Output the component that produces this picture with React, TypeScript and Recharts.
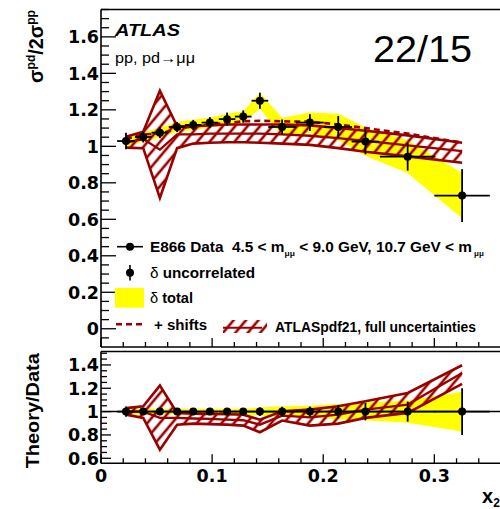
import React from 'react';
import { ComposedChart, Area, Line, Scatter, ErrorBar, XAxis, YAxis, ReferenceLine } from 'recharts';

// ---------- data ----------
const xCenters = [0.0225, 0.038, 0.053, 0.0685, 0.083, 0.098, 0.1135, 0.128, 0.143, 0.163, 0.188, 0.2135, 0.238, 0.276, 0.325];
const xHalfWidths = [0.008, 0.0075, 0.0075, 0.0075, 0.0075, 0.0075, 0.0075, 0.0075, 0.0075, 0.0125, 0.0125, 0.0125, 0.0125, 0.025, 0.025];

// top panel: sigma(pd)/2sigma(pp)
const dataRatio = [1.029, 1.051, 1.075, 1.106, 1.117, 1.13, 1.149, 1.163, 1.25, 1.106, 1.13, 1.106, 1.026, 0.943, 0.73];
const errUncorrelated = [0.045, 0.03, 0.03, 0.028, 0.028, 0.03, 0.036, 0.034, 0.044, 0.041, 0.046, 0.06, 0.07, 0.076, 0.145];
const totalLow = [0.998, 1.025, 1.048, 1.078, 1.089, 1.102, 1.12, 1.134, 1.206, 1.056, 1.074, 1.034, 0.949, 0.853, 0.606];
const totalHigh = [1.06, 1.077, 1.102, 1.134, 1.145, 1.158, 1.178, 1.192, 1.294, 1.156, 1.186, 1.178, 1.103, 1.033, 0.854];
const theoryUp = [1.053, 1.08, 1.305, 1.11, 1.11, 1.115, 1.12, 1.12, 1.12, 1.12, 1.115, 1.1, 1.085, 1.06, 1.02];
const theoryMid = [1.02, 1.04, 0.982, 1.065, 1.065, 1.07, 1.07, 1.07, 1.07, 1.065, 1.058, 1.045, 1.03, 1.005, 0.974];
const theoryLow = [0.993, 0.99, 0.717, 0.99, 1.015, 1.02, 1.022, 1.022, 1.02, 1.015, 1.008, 0.99, 0.97, 0.945, 0.91];
const shiftsLine = [1.04, 1.066, 1.07, 1.095, 1.11, 1.12, 1.128, 1.137, 1.14, 1.137, 1.135, 1.12, 1.1, 1.07, 1.02];

// bottom panel: theory/data
const ratioPoints = [1, 1, 1, 1, 1, 1, 1, 1, 1, 1, 1, 1, 1, 1, 1];
const ratioErr = [0.044, 0.03, 0.03, 0.027, 0.027, 0.027, 0.03, 0.03, 0.036, 0.041, 0.043, 0.057, 0.075, 0.086, 0.2];
const ratioTotalLow = [0.97, 0.975, 0.975, 0.975, 0.975, 0.975, 0.975, 0.975, 0.965, 0.955, 0.95, 0.935, 0.925, 0.905, 0.83];
const ratioTotalHigh = [1.03, 1.025, 1.025, 1.025, 1.025, 1.025, 1.025, 1.025, 1.035, 1.045, 1.05, 1.065, 1.075, 1.095, 1.17];
const ratioTheoryUp = [1.03, 1.046, 1.223, 0.989, 0.983, 0.98, 0.977, 0.974, 0.931, 1.003, 1.017, 1.046, 1.089, 1.16, 1.397];
const ratioTheoryMid = [1.0, 1.0, 0.946, 0.946, 0.941, 0.938, 0.932, 0.926, 0.888, 0.966, 0.951, 0.974, 1.017, 1.06, 1.33];
const ratioTheoryLow = [0.974, 0.946, 0.674, 0.888, 0.897, 0.893, 0.888, 0.88, 0.823, 0.923, 0.88, 0.897, 0.946, 0.989, 1.238];

// tick labels
const xMajorLabels = [0, 0.1, 0.2, 0.3];
const topYLabels = [0, 0.2, 0.4, 0.6, 0.8, 1, 1.2, 1.4, 1.6];
const bottomYLabels = [0.6, 0.8, 1, 1.2, 1.4];

// ---------- styling ----------
const RED = '#990000';
const YELLOW = '#ffff00';
const TICK_FONT = '"DejaVu Sans", sans-serif';
const TEXT_FONT = '"Liberation Sans", Arial, sans-serif';

const steps = (from: number, to: number, step: number) => {
  const out: number[] = [];
  for (let k = Math.round(from / step); k * step <= to + 1e-9; k++) out.push(Math.round(k * step * 10000) / 10000);
  return out;
};
const topYTicks = steps(-0.05, 1.75, 0.05);
const bottomYTicks = steps(0.6, 1.5, 0.05);
const xTicks = steps(0, 0.34, 0.02);

const fmt = (v: number) => String(Math.round(v * 100) / 100);
const inList = (list: number[], v: number) => list.some((l) => Math.abs(l - v) < 1e-6);

const makeYTick = (labels: number[], majorLen: number, minorLen: number) => (p: any) => {
  const v = p.payload.value;
  const major = inList(labels, v);
  return (
    <g key={`yt-${v}`}>
      <line x1={p.x} y1={p.y} x2={p.x + (major ? majorLen : minorLen)} y2={p.y} stroke="#000" strokeWidth={1.3} />
      {major && (
        <text x={p.x - 2} y={p.y} dy="0.36em" textAnchor="end" fontFamily={TICK_FONT} fontWeight="bold" fontSize={17.5} fill="#000">
          {fmt(v)}
        </text>
      )}
    </g>
  );
};

const makeXTick = (showLabels: boolean) => (p: any) => {
  const v = p.payload.value;
  const major = inList(xMajorLabels, v);
  return (
    <g key={`xt-${v}`}>
      <line x1={p.x} y1={p.y} x2={p.x} y2={p.y - (major ? 9 : 5)} stroke="#000" strokeWidth={1.3} />
      {major && showLabels && (
        <text x={p.x} y={p.y + 18.5} textAnchor="middle" fontFamily={TICK_FONT} fontWeight="bold" fontSize={17.5} fill="#000">
          {fmt(v)}
        </text>
      )}
    </g>
  );
};

const dotShape = (p: any) => <circle cx={p.cx} cy={p.cy} r={4} fill="#000" />;

const topRows = xCenters.map((x, i) => ({
  x,
  ex: xHalfWidths[i],
  y: dataRatio[i],
  ey: errUncorrelated[i],
  total: [totalLow[i], totalHigh[i]],
  theory: [theoryLow[i], theoryUp[i]],
  mid: theoryMid[i],
  shift: shiftsLine[i],
}));

const bottomRows = xCenters.map((x, i) => ({
  x,
  ex: xHalfWidths[i],
  y: ratioPoints[i],
  ey: ratioErr[i],
  total: [ratioTotalLow[i], ratioTotalHigh[i]],
  theory: [ratioTheoryLow[i], ratioTheoryUp[i]],
  mid: ratioTheoryMid[i],
}));

const X_DOMAIN: [number, number] = [0, 0.36];
const AXIS_LINE = { stroke: '#000', strokeWidth: 1.6 };

export default function App() {
  return (
    <div style={{ position: 'absolute', left: 0, top: 0, width: 500, height: 509, overflow: 'hidden', background: '#fff' }}>
      <svg width={0} height={0} style={{ position: 'absolute' }}>
        <defs>
          <pattern id="hatch" patternUnits="userSpaceOnUse" width={12} height={9.5} patternTransform="rotate(-50)">
            <line x1={-2} y1={4.75} x2={14} y2={4.75} stroke={RED} strokeWidth={2.6} />
          </pattern>
        </defs>
      </svg>

      {/* top panel */}
      <div style={{ position: 'absolute', left: 0, top: 0 }}>
        <ComposedChart width={501} height={350} data={topRows} margin={{ top: 8.5, right: 0, bottom: 2, left: 100 }}>
          <XAxis
            xAxisId={0}
            type="number"
            dataKey="x"
            domain={X_DOMAIN}
            allowDataOverflow
            ticks={xTicks}
            interval={0}
            height={1}
            tickSize={0}
            tickMargin={0}
            tickLine={false}
            axisLine={AXIS_LINE}
            tick={makeXTick(false)}
          />
          <XAxis xAxisId="top" orientation="top" type="number" domain={X_DOMAIN} height={1} tick={false} tickLine={false} axisLine={AXIS_LINE} />
          <YAxis
            type="number"
            domain={[-0.1, 1.75]}
            allowDataOverflow
            ticks={topYTicks}
            interval={0}
            width={1}
            tickSize={0}
            tickMargin={0}
            tickLine={false}
            axisLine={AXIS_LINE}
            tick={makeYTick(topYLabels, 15, 8)}
          />
          <Area type="linear" dataKey="total" fill={YELLOW} fillOpacity={1} stroke="none" isAnimationActive={false} activeDot={false} />
          <Area type="linear" dataKey="theory" fill="url(#hatch)" fillOpacity={1} stroke={RED} strokeWidth={2.6} isAnimationActive={false} activeDot={false} />
          <Line type="linear" dataKey="mid" stroke={RED} strokeWidth={2.3} dot={false} isAnimationActive={false} activeDot={false} />
          <Line type="linear" dataKey="shift" stroke={RED} strokeWidth={2.6} strokeDasharray="6 4" dot={false} isAnimationActive={false} activeDot={false} />
          <Scatter dataKey="y" fill="#000" shape={dotShape} isAnimationActive={false}>
            <ErrorBar dataKey="ey" direction="y" width={0} stroke="#000" strokeWidth={1.8} />
            <ErrorBar dataKey="ex" direction="x" width={0} stroke="#000" strokeWidth={1.8} />
          </Scatter>
        </ComposedChart>
      </div>

      {/* bottom panel */}
      <div style={{ position: 'absolute', left: 0, top: 340 }}>
        <ComposedChart width={501} height={169} data={bottomRows} margin={{ top: 10.5, right: 0, bottom: 44.7, left: 100 }}>
          <XAxis
            xAxisId={0}
            type="number"
            dataKey="x"
            domain={X_DOMAIN}
            allowDataOverflow
            ticks={xTicks}
            interval={0}
            height={1}
            tickSize={0}
            tickMargin={0}
            tickLine={false}
            axisLine={AXIS_LINE}
            tick={makeXTick(true)}
          />
          <XAxis xAxisId="top" orientation="top" type="number" domain={X_DOMAIN} height={1} tick={false} tickLine={false} axisLine={AXIS_LINE} />
          <YAxis
            type="number"
            domain={[0.557, 1.515]}
            allowDataOverflow
            ticks={bottomYTicks}
            interval={0}
            width={1}
            tickSize={0}
            tickMargin={0}
            tickLine={false}
            axisLine={AXIS_LINE}
            tick={makeYTick(bottomYLabels, 10, 6)}
          />
          <Area type="linear" dataKey="total" fill={YELLOW} fillOpacity={1} stroke="none" isAnimationActive={false} activeDot={false} />
          <Area type="linear" dataKey="theory" fill="url(#hatch)" fillOpacity={1} stroke={RED} strokeWidth={2.6} isAnimationActive={false} activeDot={false} />
          <Line type="linear" dataKey="mid" stroke={RED} strokeWidth={2.3} dot={false} isAnimationActive={false} activeDot={false} />
          <ReferenceLine y={1} stroke="#000" strokeWidth={1.5} />
          <Scatter dataKey="y" fill="#000" shape={dotShape} isAnimationActive={false}>
            <ErrorBar dataKey="ey" direction="y" width={0} stroke="#000" strokeWidth={1.8} />
            <ErrorBar dataKey="ex" direction="x" width={0} stroke="#000" strokeWidth={1.8} />
          </Scatter>
        </ComposedChart>
      </div>

      {/* texts and legend */}
      <svg width={500} height={509} style={{ position: 'absolute', left: 0, top: 0, pointerEvents: 'none' }}>
        <text transform="translate(43,46.5) rotate(-90)" textAnchor="middle" fontFamily={TEXT_FONT} fontWeight="bold" fontSize={21} fill="#000" textLength={73} lengthAdjust="spacingAndGlyphs">
          σ<tspan fontSize={13} dy={-8}>pd</tspan>
          <tspan dy={8}>/2σ</tspan>
          <tspan fontSize={13} dy={-8}>pp</tspan>
        </text>
        <text transform="translate(38.5,410.8) rotate(-90)" textAnchor="middle" fontFamily={TEXT_FONT} fontWeight="bold" fontSize={19} fill="#000" textLength={115} lengthAdjust="spacingAndGlyphs">
          Theory/Data
        </text>
        <text x={482} y={503} fontFamily={TEXT_FONT} fontWeight="bold" fontSize={20} fill="#000">
          x<tspan fontSize={12} dy={4}>2</tspan>
        </text>

        <text x={115} y={35.5} fontFamily={TEXT_FONT} fontWeight="bold" fontStyle="italic" fontSize={17} fill="#000" textLength={65} lengthAdjust="spacingAndGlyphs">
          ATLAS
        </text>
        <text x={115} y={63.3} fontFamily={TEXT_FONT} fontSize={15} fill="#000" textLength={80} lengthAdjust="spacingAndGlyphs">
          pp, pd→μμ
        </text>
        <text x={373} y={61.7} fontFamily={TEXT_FONT} fontSize={36} fill="#000" textLength={99} lengthAdjust="spacingAndGlyphs">
          22/15
        </text>

        {/* legend */}
        <line x1={117} y1={246.7} x2={143} y2={246.7} stroke="#000" strokeWidth={1.6} />
        <circle cx={130} cy={246.7} r={4} fill="#000" />
        <text x={150} y={252} fontFamily={TEXT_FONT} fontWeight="bold" fontSize={14.5} fill="#000" textLength={322} lengthAdjust="spacingAndGlyphs">
          {'E866 Data\u00a0 4.5 < m'}<tspan fontSize={8} dy={4}>μμ</tspan>
          <tspan dy={-4}>{' < 9.0 GeV, 10.7 GeV < m'}</tspan>
        </text>
        <text x={474} y={256} fontFamily={TEXT_FONT} fontWeight="bold" fontSize={8} fill="#000">
          μμ
        </text>

        <line x1={130} y1={265} x2={130} y2={280.5} stroke="#000" strokeWidth={1.6} />
        <circle cx={130} cy={272.7} r={4} fill="#000" />
        <text x={150} y={277.5} fontFamily={TEXT_FONT} fontWeight="bold" fontSize={14.5} fill="#000" textLength={105} lengthAdjust="spacingAndGlyphs">
          <tspan fontWeight="normal">δ</tspan> uncorrelated
        </text>

        <rect x={115} y={288} width={29} height={19.7} fill={YELLOW} />
        <text x={150} y={303} fontFamily={TEXT_FONT} fontWeight="bold" fontSize={14.5} fill="#000" textLength={43} lengthAdjust="spacingAndGlyphs">
          <tspan fontWeight="normal">δ</tspan> total
        </text>

        <line x1={116} y1={324.3} x2={143} y2={324.3} stroke={RED} strokeWidth={2.6} strokeDasharray="6 4" />
        <text x={154} y={330} fontFamily={TEXT_FONT} fontWeight="bold" fontSize={14.5} fill="#000" textLength={53} lengthAdjust="spacingAndGlyphs">
          + shifts
        </text>

        <rect x={223} y={320} width={44} height={13} fill="url(#hatch)" />
        <line x1={223} y1={327.7} x2={262} y2={327.7} stroke={RED} strokeWidth={2} />
        <text x={275} y={331.5} fontFamily={TEXT_FONT} fontWeight="bold" fontSize={14.5} fill="#000" textLength={201} lengthAdjust="spacingAndGlyphs">
          ATLASpdf21, full uncertainties
        </text>
      </svg>
    </div>
  );
}
